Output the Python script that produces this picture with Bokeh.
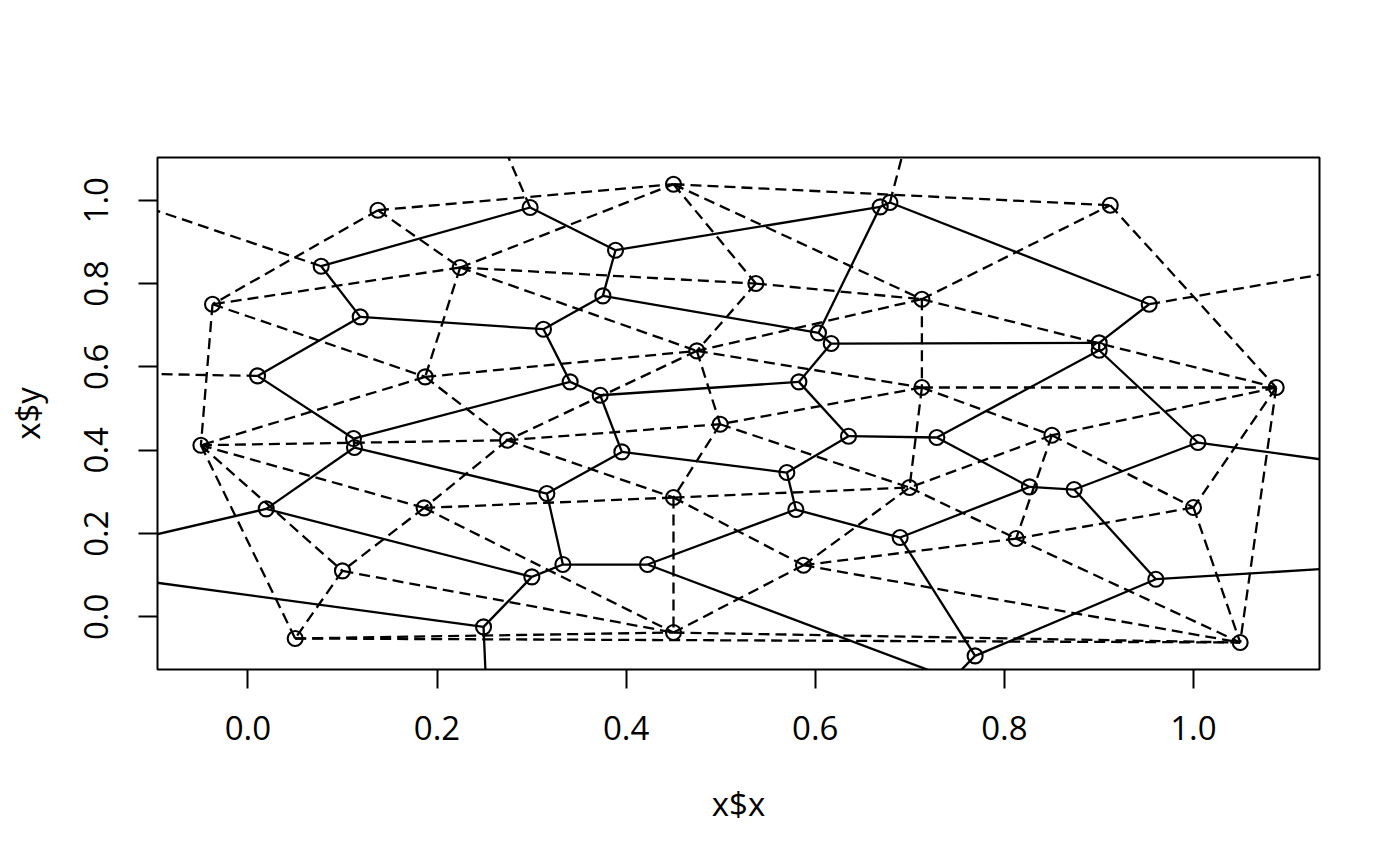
from bokeh.plotting import figure
from bokeh.models import ColumnDataSource, Range1d, FixedTicker
from bokeh.embed import file_html
from bokeh.resources import INLINE

# data points (triangulation vertices)
pt_x = [0.1375, 0.2245, -0.0374, 0.1875, 0.4501, 0.5372, 0.7128, 0.4748, 0.7128, 0.912,
        1.0875, -0.0497, 0.2745, 0.1864, 0.1000, 0.0500, 0.4995, 0.6997, 0.4501, 0.5876,
        0.4501, 0.8503, 1.0000, 0.8125, 1.0494]
pt_y = [0.976, 0.8385, 0.7504, 0.576, 1.0384, 0.800, 0.7624, 0.6384, 0.5505, 0.988,
        0.5505, 0.412, 0.424, 0.2616, 0.1104, -0.0518, 0.4624, 0.3105, 0.2865, 0.1241,
        -0.0375, 0.436, 0.2625, 0.1881, -0.0614]

# tessellation vertices (visible)
vx = [0.2985, 0.0775, 0.1188, 0.3126, 0.0102, 0.6687, 0.6790, 0.3888, 0.3754, 0.6034,
      0.6169, 0.3408, 0.3726, 0.5827, 0.9532, 0.9003, 0.9003, 0.1117, 0.1127, 0.0194,
      0.3162, 0.3003, 0.2492, 0.3955, 0.6352, 0.7286, 0.5700, 0.5795, 0.6898, 0.3331,
      0.4226, 1.0047, 0.8266, 0.8738, 0.9602, 0.7691]
vy = [0.9825, 0.8416, 0.720, 0.6904, 0.5784, 0.984, 0.9945, 0.880, 0.7704, 0.6816,
      0.656, 0.564, 0.532, 0.564, 0.7504, 0.6576, 0.640, 0.428, 0.4065, 0.2592,
      0.2961, 0.096, -0.024, 0.396, 0.4337, 0.4305, 0.3465, 0.2577, 0.1905, 0.1257,
      0.1257, 0.4185, 0.312, 0.3057, 0.0905, -0.0936]
# tessellation vertices outside the plotting window
out_x = [-0.236, 0.745]
out_y = [0.125, -0.149]

# triangulation edges (indices into pt_*)
tri_a = [0, 0, 0, 1, 1, 1, 1, 1, 2, 2, 3, 3, 3, 4, 4, 4, 5, 5, 6, 6, 6, 6, 7, 7, 7, 8, 8, 8, 8, 9,
         10, 10, 10, 11, 11, 11, 11, 12, 12, 12, 13, 13, 13, 14, 14, 15, 15, 16, 16, 18, 18, 18,
         19, 19, 19, 19, 20, 21, 21, 21, 22, 22, 23, 17]
tri_b = [4, 2, 1, 4, 5, 7, 3, 2, 3, 11, 7, 11, 12, 9, 5, 6, 6, 7, 7, 8, 9, 10, 12, 16, 8, 10, 17, 16, 21, 10,
         21, 22, 24, 12, 13, 14, 15, 13, 18, 16, 18, 20, 14, 20, 15, 20, 24, 18, 17, 17, 19, 20,
         17, 23, 24, 20, 24, 17, 22, 23, 23, 24, 24, 23]

# tessellation edges (indices into vx/vy; 36, 37 refer to out_x/out_y)
tes_a = [1, 1, 2, 2, 4, 0, 7, 7, 8, 8, 3, 11, 11, 12, 12, 5, 5, 6, 9, 10, 10, 14, 15, 16, 16,
         13, 24, 24, 23, 23, 26, 27, 27, 30, 29, 29, 28, 28, 25, 32, 33, 33, 34, 21, 21, 19, 18, 18,
         19, 22, 30, 35]
tes_b = [0, 2, 3, 4, 17, 7, 5, 8, 3, 9, 11, 12, 17, 13, 23, 9, 6, 14, 10, 15, 13, 15, 16, 25, 31,
         24, 25, 26, 26, 20, 27, 28, 30, 29, 20, 21, 32, 35, 32, 33, 31, 34, 35, 22, 19, 18, 17, 20,
         36, 36, 37, 37]

# unbounded tessellation edges leaving the window
ray_v = [22, 31, 34]
ray_x = [0.2545, 1.2, 1.2]
ray_y = [-0.3, 0.3578, 0.1237]
# dashed edges towards dummy points
dum_v = [0, 6, 1, 4, 14]
dum_x = [0.2665, 0.697, -0.15, -0.15, 1.2]
dum_y = [1.15, 1.15, 1.016, 0.5848, 0.8473]

x_ticks = [0.0, 0.2, 0.4, 0.6, 0.8, 1.0]
x_tick_labels = ["0.0", "0.2", "0.4", "0.6", "0.8", "1.0"]
y_ticks = [0.0, 0.2, 0.4, 0.6, 0.8, 1.0]
y_tick_labels = ["0.0", "0.2", "0.4", "0.6", "0.8", "1.0"]

allx = vx + out_x
ally = vy + out_y

dashed = ColumnDataSource(dict(
    x0=[pt_x[a] for a in tri_a] + [vx[v] for v in dum_v],
    y0=[pt_y[a] for a in tri_a] + [vy[v] for v in dum_v],
    x1=[pt_x[b] for b in tri_b] + dum_x,
    y1=[pt_y[b] for b in tri_b] + dum_y,
))
solid = ColumnDataSource(dict(
    x0=[allx[a] for a in tes_a] + [vx[v] for v in ray_v],
    y0=[ally[a] for a in tes_a] + [vy[v] for v in ray_v],
    x1=[allx[b] for b in tes_b] + ray_x,
    y1=[ally[b] for b in tes_b] + ray_y,
))
pts = ColumnDataSource(dict(x=pt_x + vx, y=pt_y + vy))

p = figure(frame_width=1162, frame_height=512,
           x_range=Range1d(-0.0956, 1.1333), y_range=Range1d(-0.1262, 1.1025),
           output_backend="svg", toolbar_location=None,
           min_border_left=157, min_border_top=157, min_border_right=64, min_border_bottom=180,
           x_axis_label="x$x", y_axis_label="x$y")
p.grid.visible = False
p.outline_line_color = "black"
p.outline_line_width = 2
p.background_fill_color = "white"
p.border_fill_color = "white"

p.xaxis.ticker = FixedTicker(ticks=x_ticks)
p.xaxis.major_label_overrides = dict(zip(x_ticks, x_tick_labels))
p.yaxis.ticker = FixedTicker(ticks=y_ticks)
p.yaxis.major_label_overrides = dict(zip(y_ticks, y_tick_labels))
p.yaxis.major_label_orientation = "vertical"
for ax in (p.xaxis, p.yaxis):
    ax.axis_line_color = None
    ax.major_tick_out = 19
    ax.major_tick_in = 0
    ax.minor_tick_out = 0
    ax.minor_tick_in = 0
    ax.major_tick_line_width = 2
    ax.major_tick_line_color = "black"
    ax.major_label_text_font = "Open Sans"
    ax.major_label_text_font_size = "33px"
    ax.major_label_text_color = "black"
    ax.axis_label_text_font = "Open Sans"
    ax.axis_label_text_font_size = "33px"
    ax.axis_label_text_font_style = "normal"
    ax.axis_label_text_color = "black"
p.xaxis.major_label_standoff = 27
p.xaxis.axis_label_standoff = 38
p.yaxis.major_label_standoff = 30
p.yaxis.axis_label_standoff = 32

p.segment("x0", "y0", "x1", "y1", source=dashed, line_color="black", line_width=2.3,
          line_dash="11 6")
p.segment("x0", "y0", "x1", "y1", source=solid, line_color="black", line_width=2.3)
p.scatter("x", "y", source=pts, marker="circle", size=15, fill_color=None,
          line_color="black", line_width=2.1)

open("out.html", "w").write(file_html(p, INLINE))
